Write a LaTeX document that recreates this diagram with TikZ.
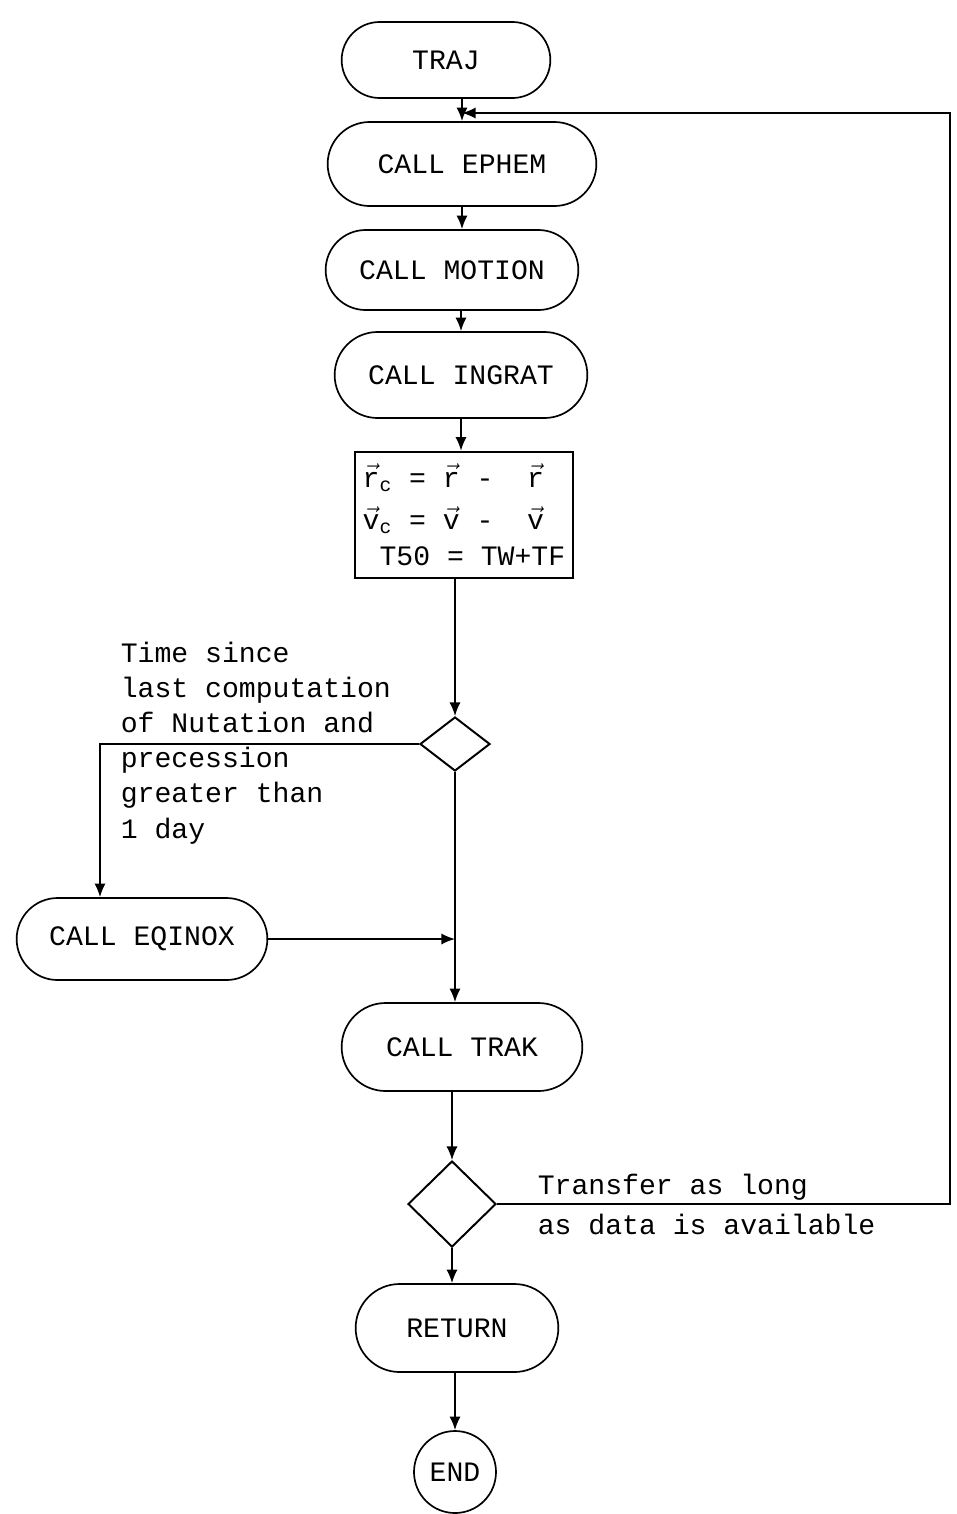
\documentclass[tikz,border=0pt]{standalone}
\usepackage{amsmath}
\usepackage{fontspec}
\newfontfamily\typer{Liberation Mono}
\usepackage{tikz}
\usetikzlibrary{arrows.meta, positioning, shapes.geometric, shapes.misc}

\begin{document}
\begin{tikzpicture}[x=0.025cm,y=-0.025cm,
    every node/.style={font=\typer\fontsize{20}{25}\selectfont},
    pill/.style={draw,rounded rectangle,line width=1.2pt,minimum height=2.1cm},
    test/.style={draw,diamond,line width=1.4pt,inner sep=0pt},
    line width=1.2pt, >={Latex[length=3.4mm,width=2.8mm]}]
    \useasboundingbox (0,0) rectangle (956,1514);
    \node[pill,minimum width=5.45cm,minimum height=1.9cm] (traj) at (446,60) {TRAJ};
    \node[pill,minimum width=6.95cm] (ephem) at (462,164) {CALL EPHEM};
    \node[pill,minimum width=6.55cm,minimum height=2cm] (motion) at (452,270) {CALL MOTION};
    \node[pill,minimum width=6.55cm,minimum height=2.15cm] (ingrat) at (461,375) {CALL INGRAT};
    \node[draw,line width=1.8pt,minimum width=5.45cm,minimum height=3.15cm,inner sep=2pt,align=left] (state) at (464,515)
        {$\vec{\text{r}}_{\text{c}}$ = $\vec{\text{r}}$ -~~$\vec{\text{r}}$\\[5pt]
         $\vec{\text{v}}_{\text{c}}$ = $\vec{\text{v}}$ -~~$\vec{\text{v}}$\\[1pt]
         ~T50 = TW+TF};
    \node[test,minimum width=1.75cm,minimum height=1.35cm] (nut) at (455,744) {};
    \node[pill,minimum width=6.5cm,minimum height=2.05cm] (eqinox) at (142,939) {CALL EQINOX};
    \node[pill,minimum width=6.25cm,minimum height=2.2cm] (trak) at (462,1047) {CALL TRAK};
    \node[test,minimum width=2.2cm,minimum height=2.15cm] (more) at (452,1204) {};
    \node[pill,minimum width=5.3cm,minimum height=2.2cm] (return) at (457,1328) {RETURN};
    \node[draw,circle,line width=1.2pt,minimum size=2.05cm,inner sep=0pt] (end) at (455,1472) {END};

    \node[anchor=north west,align=left,inner sep=0pt] (why) at (120,641)
        {Time since\\last computation\\of Nutation and\\precession\\greater than\\1 day};
    \node[anchor=base west,inner sep=0pt] (go) at (537,1194) {Transfer as long};
    \node[anchor=base west,inner sep=0pt] (go2) at (537,1234) {as data is available};

    \coordinate (loop) at (ephem.north |- 0,113);
    \coordinate (top) at (950,113);
    \draw[->] (traj.south -| ephem.north) -- (ephem.north);
    \draw[->] (more.east) -| (top) -- (loop);
    \draw[->] (ephem.south) -- (ephem.south |- motion.north);
    \draw[->] (motion.south -| ingrat.north) -- (ingrat.north);
    \draw[->] (ingrat.south) -- (ingrat.south |- state.north);
    \draw[->] (state.south -| nut.north) -- (nut.north);
    \draw[->] (nut.west) -| ([xshift=-1.05cm]eqinox.north);
    \draw[->] (nut.south) -- (nut.south |- trak.north);
    \draw[->] (eqinox.east) -- (eqinox.east -| nut.south);
    \draw[->] (trak.south -| more.north) -- (more.north);
    \draw[->] (more.south) -- (more.south |- return.north);
    \draw[->] (return.south -| end.north) -- (end.north);
\end{tikzpicture}
\end{document}
